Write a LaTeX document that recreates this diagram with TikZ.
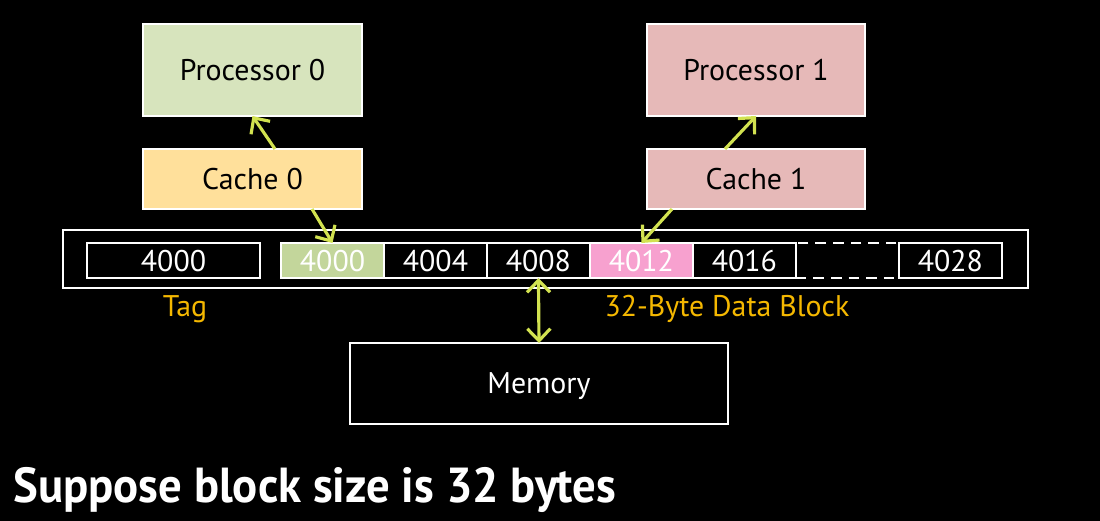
\documentclass[tikz,border=0pt]{standalone}
\usepackage{fontspec}
\setmainfont{PT Sans}
\newfontfamily\titlefont[FakeStretch=0.95]{PT Sans Bold}
\usetikzlibrary{arrows.meta,positioning}
\definecolor{procgreen}{HTML}{D7E4BD}
\definecolor{cacheorange}{HTML}{FFE09B}
\definecolor{procpink}{HTML}{E6B9B8}
\definecolor{cellgreen}{HTML}{C3D69B}
\definecolor{cellpink}{HTML}{F7A1CF}
\definecolor{labelgold}{HTML}{F5B800}
\definecolor{arrowlime}{RGB}{210,226,80}

\begin{document}
\begin{tikzpicture}[x=0.02cm,y=-0.02cm,
  box/.style={draw=white,line width=1.1pt,inner sep=0pt,outer sep=0pt,text depth=0pt,font=\fontsize{17}{20}\selectfont},
  cell/.style={box,minimum width=2.06cm,minimum height=0.7cm,text=white},
  barb/.tip={Straight Barb[length=2.4mm,width=4.6mm]},
  link/.style={arrowlime,line width=1.8pt,-barb}]
		\fill[black] (0,0) rectangle (1100,521);
		\useasboundingbox (0,0) rectangle (1100,521);
		% processors and caches
		\node[box,fill=procgreen,minimum width=4.38cm,minimum height=1.84cm] (proc0) at (252.5,70) {Processor 0};
		\node[box,fill=cacheorange,minimum width=4.38cm,minimum height=1.2cm] (cache0) at (252.5,179) {Cache 0};
		\node[box,fill=procpink,minimum width=4.36cm,minimum height=1.84cm] (proc1) at (756,70) {Processor 1};
		\node[box,fill=procpink,minimum width=4.36cm,minimum height=1.2cm] (cache1) at (756,179) {Cache 1};
		% cache line
		\node[box,minimum width=19.3cm,minimum height=1.16cm] (line) at (545.5,259) {};
		\node[cell,minimum width=3.46cm] (tag) at (173.5,260.5) {4000};
		\node[cell,fill=cellgreen] (w0) at (332.5,260.5) {4000};
		\node[cell,right=0pt of w0] (w1) {4004};
		\node[cell,right=0pt of w1] (w2) {4008};
		\node[cell,fill=cellpink,right=0pt of w2] (w3) {4012};
		\node[cell,right=0pt of w3] (w4) {4016};
		\node[cell,dashed,dash pattern=on 6pt off 4pt,right=0pt of w4] (w5) {};
		\node[cell,right=0pt of w5] (w7) {4028};
		\node[text=labelgold,font=\fontsize{17}{20}\selectfont] (taglabel) at (185,309) {Tag};
		\node[text=labelgold,font=\fontsize{17}{20}\selectfont] (blocklabel) at (727,309) {32-Byte Data Block};
		% memory
		\node[box,fill=black,text=white,minimum width=7.56cm,minimum height=1.62cm] (mem) at (539,383.5) {Memory};
		\node[anchor=base west,inner sep=0pt,text=white,font=\titlefont\fontsize{28}{32}\selectfont] (title) at (13,502) {Suppose block size is 32 bytes};
		% connectors
		\draw[link] ([xshift=0.45cm]cache0.north) -- (proc0.south);
		\draw[link] ([xshift=1.19cm]cache0.south) -- (w0.north);
		\draw[link] ([xshift=-0.62cm]cache1.north) -- (proc1.south);
		\draw[link] ([xshift=-1.68cm]cache1.south) -- (w3.north);
		\draw[link,barb-barb] (w2.south) -- (mem.north);
\end{tikzpicture}
\end{document}
